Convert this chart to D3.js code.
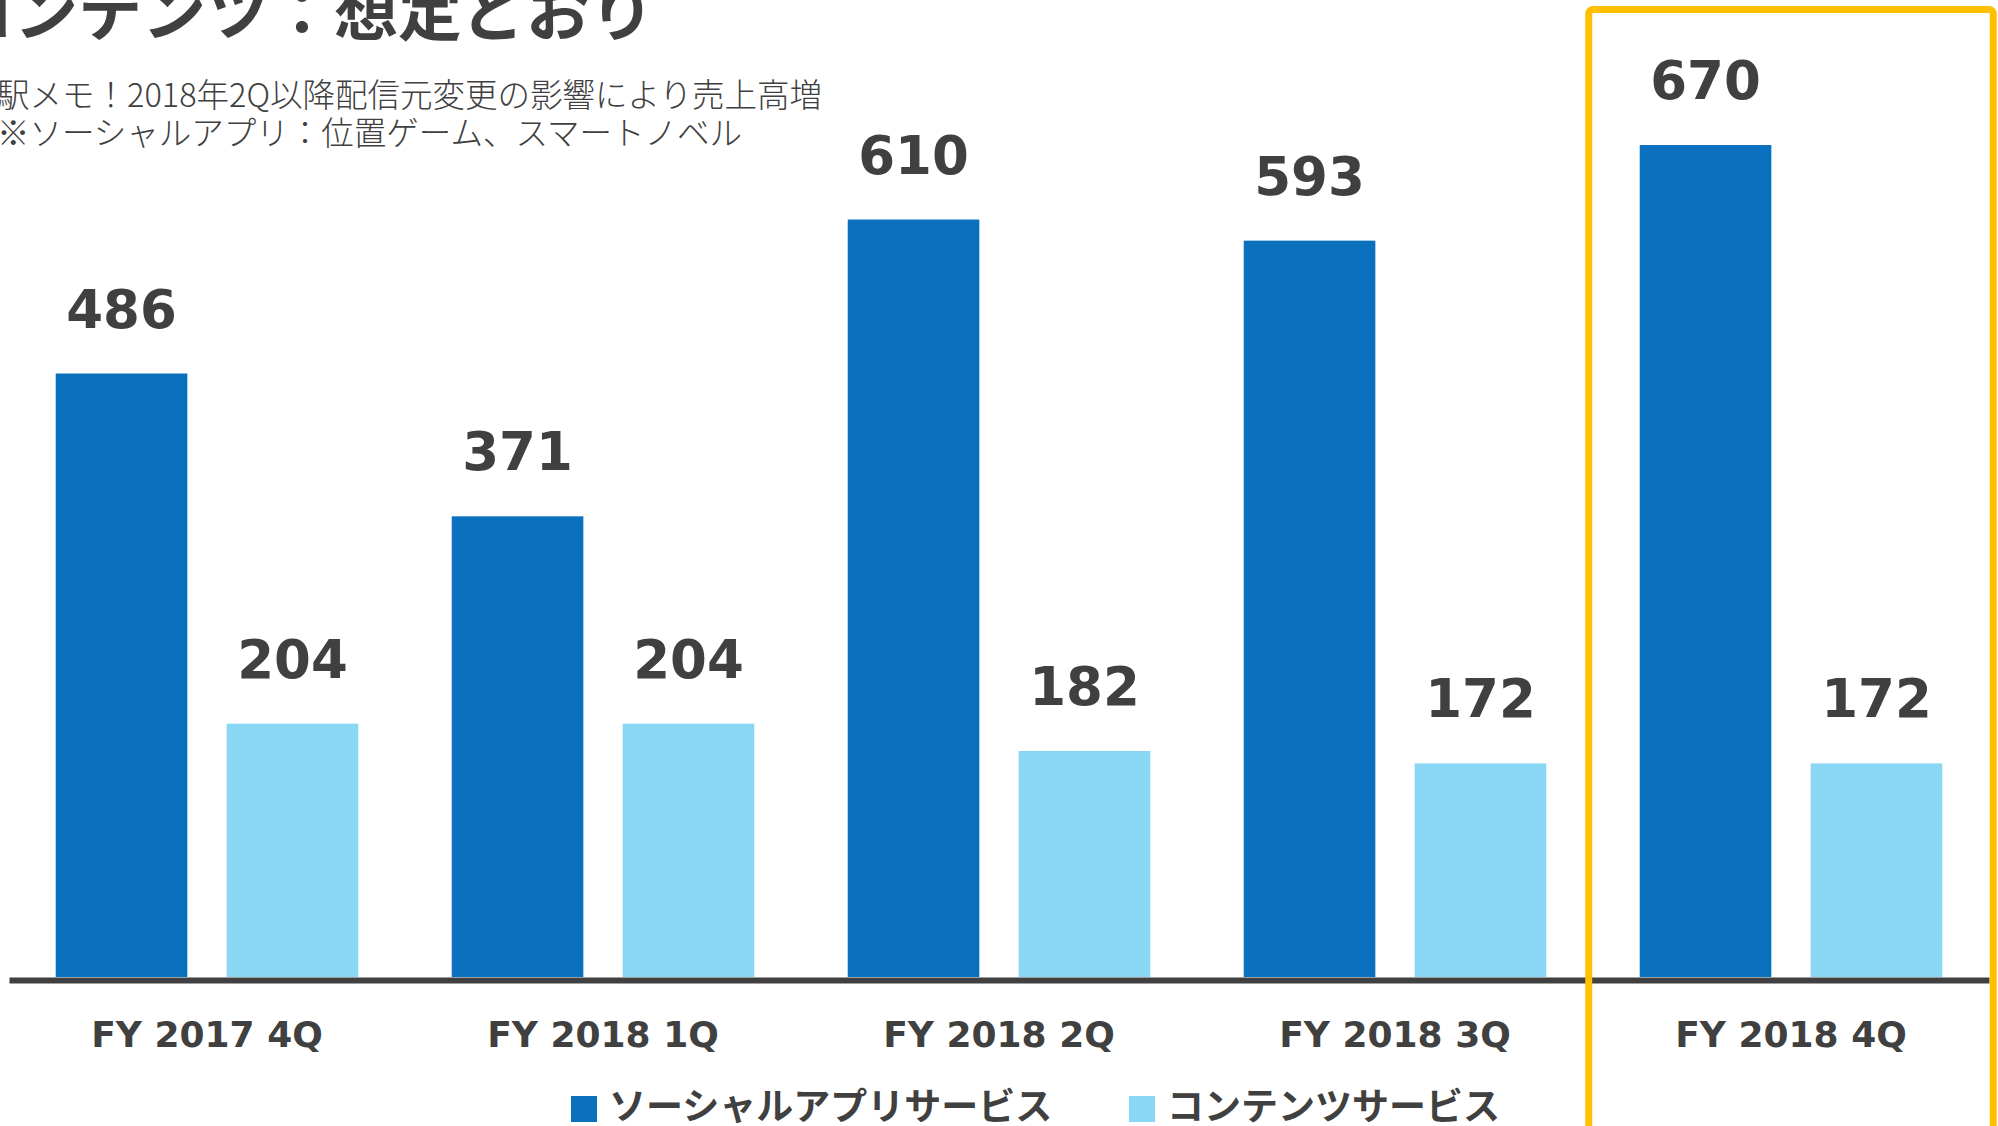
<!DOCTYPE html>
<html>
<head>
<meta charset="utf-8">
<script src="https://cdn.jsdelivr.net/npm/d3@7"></script>
<style>
  html, body { margin: 0; padding: 0; background: #fff; overflow: hidden; }
  svg { display: block; }
  .jp { font-family: "Noto Sans CJK JP", "Noto Sans", sans-serif; fill: #404040; }
  .num { font-family: "DejaVu Sans", Verdana, sans-serif; font-weight: bold; fill: #404040; }
</style>
</head>
<body>
<script>
// Data
let categories = ["FY 2017 4Q", "FY 2018 1Q", "FY 2018 2Q", "FY 2018 3Q", "FY 2018 4Q"];
let seriesNames = ["ソーシャルアプリサービス", "コンテンツサービス"];
let socialApp = [486, 371, 610, 593, 670];
let contents = [204, 204, 182, 172, 172];
let colors = ["#0B70BE", "#89D7F5"];

let title = "コンテンツ：想定どおり";
let notes = ["駅メモ！2018年2Q以降配信元変更の影響により売上高増", "※ソーシャルアプリ：位置ゲーム、スマートノベル"];
let highlighted = "FY 2018 4Q";

let rows = categories.map((c, i) => ({ cat: c, values: [socialApp[i], contents[i]] }));

let width = 1998, height = 1126;

let svg = d3.select("body")
    .append("svg")
    .attr("width", width)
    .attr("height", height);

// Scales
let x0 = d3.scaleBand()
    .domain(categories)
    .range([9, 1989])
    .paddingInner(0.236)
    .paddingOuter(0.118);

let x1 = d3.scaleBand()
    .domain([0, 1])
    .range([0, x0.bandwidth()])
    .paddingInner(0.23);

let y = d3.scaleLinear()
    .domain([0, 786.8])
    .range([977, 0]);

// Title and notes (partially cut off at the slide edge)
svg.append("text")
    .attr("class", "jp")
    .attr("x", -50)
    .attr("y", 35)
    .style("font-size", "64px")
    .style("font-weight", "bold")
    .text(title);

svg.selectAll(".note")
    .data(notes)
    .enter()
    .append("text")
    .attr("class", "jp note")
    .attr("x", -3)
    .attr("y", (d, i) => 107 + i * 38)
    .style("font-size", "32.5px")
    .style("font-weight", 300)
    .text(d => d);

// Bars
let groups = svg.append("g")
    .selectAll(".group")
    .data(rows)
    .enter()
    .append("g")
    .attr("class", "group")
    .attr("transform", d => `translate(${x0(d.cat)},0)`);

groups.selectAll("rect")
    .data(d => d.values)
    .enter()
    .append("rect")
    .attr("x", (d, i) => x1(i))
    .attr("y", d => y(d))
    .attr("width", x1.bandwidth())
    .attr("height", d => y(0) - y(d))
    .attr("fill", (d, i) => colors[i]);

groups.selectAll(".value")
    .data(d => d.values)
    .enter()
    .append("text")
    .attr("class", "num value")
    .attr("x", (d, i) => x1(i) + x1.bandwidth() / 2)
    .attr("y", d => y(d) - 46)
    .attr("text-anchor", "middle")
    .style("font-size", "53px")
    .text(d => d);

// Axis
let axis = svg.append("g")
    .attr("transform", "translate(0,980)")
    .call(d3.axisBottom(x0).tickSize(0).tickSizeOuter(0));

axis.select(".domain")
    .attr("stroke", "#404040")
    .attr("stroke-width", 6);

axis.selectAll(".tick text")
    .attr("class", "num")
    .attr("y", 67)
    .attr("dy", 0)
    .style("font-size", "36px")
    .attr("fill", "#404040");

// Legend
let legendX = [571, 1129];
let legend = svg.selectAll(".legend")
    .data(seriesNames)
    .enter()
    .append("g")
    .attr("class", "legend")
    .attr("transform", (d, i) => `translate(${legendX[i]},1096)`);

legend.append("rect")
    .attr("width", 26)
    .attr("height", 26)
    .attr("fill", (d, i) => colors[i]);

legend.append("text")
    .attr("class", "jp")
    .attr("x", 38)
    .attr("y", 24)
    .style("font-size", "37px")
    .style("font-weight", "bold")
    .text(d => d);

// Highlight box around the latest quarter
svg.append("rect")
    .attr("x", x0(highlighted) - 51)
    .attr("y", 9.5)
    .attr("width", x0.bandwidth() + 102)
    .attr("height", 1200)
    .attr("rx", 4)
    .attr("fill", "none")
    .attr("stroke", "#FFC000")
    .attr("stroke-width", 7);
</script>
</body>
</html>
